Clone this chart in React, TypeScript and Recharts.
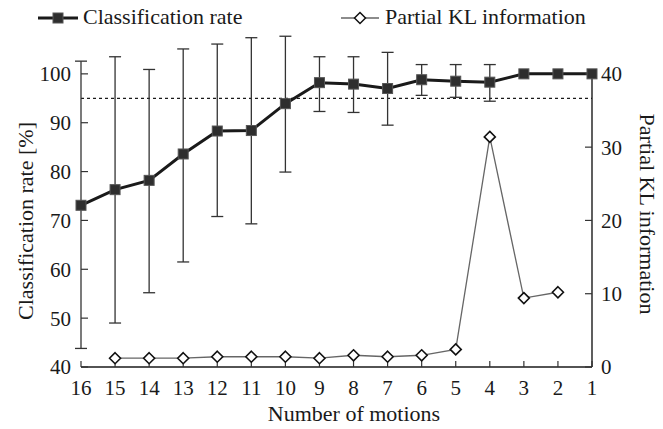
import { ErrorBar, Legend, Line, LineChart, ReferenceLine, XAxis, YAxis } from "recharts";

// values
const motions = [16, 15, 14, 13, 12, 11, 10, 9, 8, 7, 6, 5, 4, 3, 2, 1];
const classificationRate = [
  73.1, 76.3, 78.2, 83.6, 88.3, 88.4, 93.9, 98.2, 97.9, 97.0, 98.8, 98.5, 98.3, 100, 100, 100,
];
const errorLow = [29.3, 27.3, 23.0, 22.1, 17.5, 19.1, 14.0, 5.9, 5.8, 7.5, 3.2, 3.3, 3.9, null, null, null];
const errorHigh = [29.5, 27.2, 22.7, 21.5, 17.8, 19.0, 13.8, 5.3, 5.6, 7.4, 3.1, 3.4, 3.6, null, null, null];
const partialKL = [null, 1.2, 1.2, 1.2, 1.4, 1.4, 1.4, 1.2, 1.6, 1.4, 1.6, 2.4, 31.4, 9.4, 10.2, null];
const rateTicks = [40, 50, 60, 70, 80, 90, 100];
const klTicks = [0, 10, 20, 30, 40];
const targetRate = 95;

const data = motions.map((m, i) => ({
  motions: m,
  rate: classificationRate[i],
  err: errorLow[i] == null ? null : [errorLow[i], errorHigh[i]],
  kl: partialKL[i],
}));

const font = "Liberation Serif, Times New Roman, Times, DejaVu Serif, serif";
const ink = "#1a1a1a";

const SquareDot = (props: any) => {
  const { cx, cy } = props;
  if (cx == null || cy == null) return null;
  return <rect x={cx - 5} y={cy - 5} width={10} height={10} fill="#2e2e2e" stroke="#555" strokeWidth={1} />;
};

const DiamondDot = (props: any) => {
  const { cx, cy, value } = props;
  if (cx == null || cy == null || value == null) return null;
  const r = 5.5;
  return (
    <polygon
      points={`${cx},${cy - r} ${cx + r},${cy} ${cx},${cy + r} ${cx - r},${cy}`}
      fill="#fff"
      stroke="#111"
      strokeWidth={1.6}
    />
  );
};

const renderLegend = () => (
  <div style={{ position: "relative", height: 25, fontFamily: font, fontSize: 22, color: ink }}>
    <svg width={40} height={12} style={{ position: "absolute", left: 38, top: 12 }}>
      <line x1={0} y1={6} x2={40} y2={6} stroke={ink} strokeWidth={3} />
      <rect x={15} y={1} width={10} height={10} fill="#2e2e2e" stroke="#555" />
    </svg>
    <span style={{ position: "absolute", left: 83, top: 4, lineHeight: "26px", whiteSpace: "nowrap" }}>
      Classification rate
    </span>
    <svg width={38} height={14} style={{ position: "absolute", left: 341, top: 11 }}>
      <line x1={0} y1={7} x2={38} y2={7} stroke="#666" strokeWidth={1.3} />
      <polygon points="19,1.5 24.5,7 19,12.5 13.5,7" fill="#fff" stroke="#111" strokeWidth={1.5} />
    </svg>
    <span style={{ position: "absolute", left: 385, top: 4, lineHeight: "26px", whiteSpace: "nowrap" }}>
      Partial KL information
    </span>
  </div>
);

const LeftLabel = () => (
  <text
    x={25}
    y={221}
    transform="rotate(-90 25 221)"
    textAnchor="middle"
    dominantBaseline="central"
    fontFamily={font}
    fontSize={22}
    fill={ink}
  >
    Classification rate [%]
  </text>
);

const RightLabel = () => (
  <text
    x={647}
    y={214}
    transform="rotate(90 647 214)"
    textAnchor="middle"
    dominantBaseline="central"
    fontFamily={font}
    fontSize={22}
    fill={ink}
  >
    Partial KL information
  </text>
);

const BottomLabel = () => (
  <text x={354} y={413} textAnchor="middle" dominantBaseline="central" fontFamily={font} fontSize={22} fill={ink}>
    Number of motions
  </text>
);

const tickStyle = { fontFamily: font, fontSize: 21, fill: ink };

export default function App() {
  return (
    <div style={{ position: "absolute", left: 0, top: 0, fontFamily: font }}>
      <LineChart width={663} height={429} data={data} margin={{ top: 0, right: 0, bottom: 0, left: 0 }}>
        <Legend verticalAlign="top" align="left" content={renderLegend} wrapperStyle={{ top: 0, left: 0, width: 663 }} />
        <XAxis
          dataKey="motions"
          type="category"
          interval={0}
          height={62}
          tick={tickStyle}
          tickSize={-6}
          tickMargin={19}
          tickLine={{ stroke: "#333", strokeWidth: 1.2 }}
          axisLine={{ stroke: ink, strokeWidth: 1.4 }}
          label={<BottomLabel />}
        />
        <YAxis
          yAxisId="left"
          width={81}
          domain={[40, 110]}
          ticks={rateTicks}
          tick={tickStyle}
          tickSize={-7}
          tickMargin={17}
          tickLine={{ stroke: "#333", strokeWidth: 1.2 }}
          axisLine={false}
          label={<LeftLabel />}
        />
        <YAxis
          yAxisId="right"
          orientation="right"
          width={71}
          domain={[0, 140 / 3]}
          ticks={klTicks}
          tick={{ ...tickStyle, textAnchor: "start" }}
          tickSize={-7}
          tickMargin={16}
          tickLine={{ stroke: "#333", strokeWidth: 1.2 }}
          axisLine={false}
          label={<RightLabel />}
        />
        <ReferenceLine
          yAxisId="left"
          segment={[{ x: 16, y: 40 }, { x: 16, y: 100 }]}
          stroke={ink}
          strokeWidth={1.4}
        />
        <ReferenceLine
          yAxisId="right"
          segment={[{ x: 1, y: 0 }, { x: 1, y: 40 }]}
          stroke={ink}
          strokeWidth={1.4}
        />
        <ReferenceLine yAxisId="left" y={targetRate} stroke={ink} strokeWidth={1.2} strokeDasharray="3 3" />
        <Line
          yAxisId="right"
          dataKey="kl"
          name="Partial KL information"
          stroke="#666"
          strokeWidth={1.3}
          dot={<DiamondDot />}
          isAnimationActive={false}
        />
        <Line
          yAxisId="left"
          dataKey="rate"
          name="Classification rate"
          stroke={ink}
          strokeWidth={3}
          dot={<SquareDot />}
          isAnimationActive={false}
        >
          <ErrorBar dataKey="err" direction="y" width={6} stroke="#333" strokeWidth={1.3} />
        </Line>
      </LineChart>
    </div>
  );
}
